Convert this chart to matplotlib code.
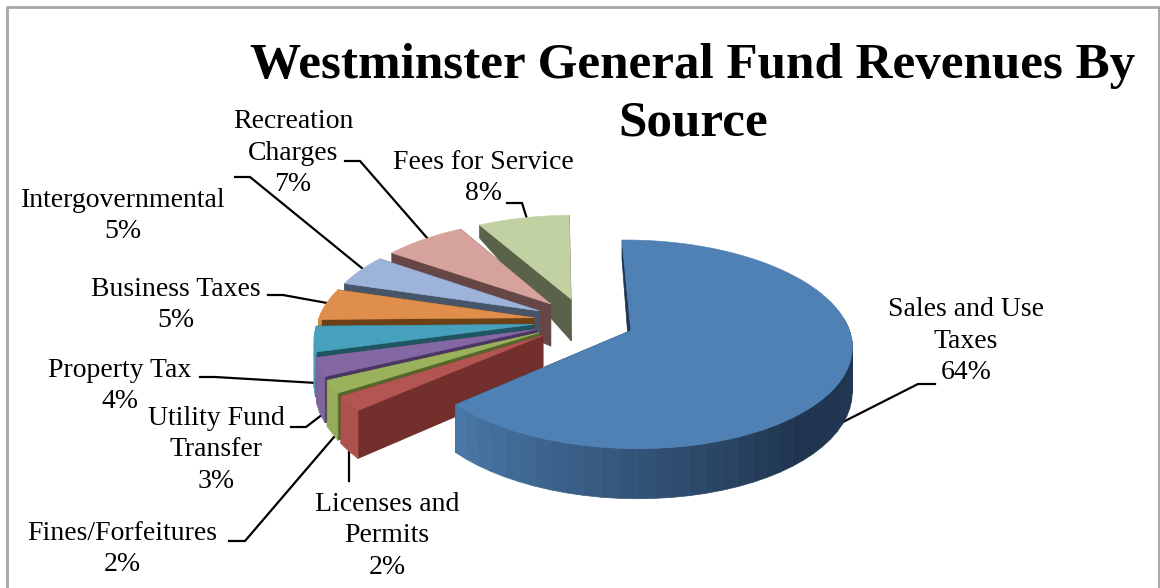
"""Westminster general fund revenues as an exploded 3D style pie."""

import matplotlib

matplotlib.use("Agg")
import matplotlib.pyplot as plt
import numpy as np
from matplotlib.colors import to_rgb

labels = [
    "Sales and Use\nTaxes",
    "Licenses and\nPermits",
    "Fines/Forfeitures",
    "Utility Fund\nTransfer",
    "Property Tax",
    "Business Taxes",
    "Intergovernmental",
    "Recreation\nCharges",
    "Fees for Service",
]
# shares, the labels round them
values = [63.8, 2.3, 2.0, 2.9, 4.0, 5.0, 5.0, 7.1, 7.9]
top_colors = ["#4F81B5", "#B35551", "#9BB25C", "#8368A3", "#47A1BC",
              "#E08E4B", "#9DB3D9", "#D5A29C", "#C1D1A2"]
wall_colors = ["#20354F", "#722F2C", "#56672C", "#4B3663", "#1F5560",
               "#6E4015", "#465568", "#664746", "#5A6349"]

# projection of the pie plane on to the page, in pixels
CX, CY = 584.0, 321.0
RX, RY, TILT = 216.0, 100.0, 0.13
DEPTH = 43.0
EXPLODE = 0.234
START = 91.0
SERIF = "Liberation Serif"


def project(x, y):
    w = 1 + TILT * y
    # the side walls get much thinner towards the back of the pie
    taper = 1 - 0.66 * np.clip((y - 0.3) / 0.8, 0, 1)
    return CX + RX * x / w, CY - RY * y / w, DEPTH * taper / w


def mix(a, b, t):
    a, b = np.array(to_rgb(a)), np.array(to_rgb(b))
    return tuple(a + (b - a) * t)


def draw_slice(ax, a0, a1, top, wall):
    """Draw one slice, angles in degrees going from a0 down to a1."""
    mid = np.radians((a0 + a1) / 2)
    ox, oy = EXPLODE * np.cos(mid), EXPLODE * np.sin(mid)
    angles = np.radians(np.linspace(a0, a1, int(abs(a1 - a0)) + 2))
    xs, ys, ds = project(ox + np.cos(angles), oy + np.sin(angles))
    ax_, ay_, ad_ = project(ox, oy)

    # radial walls first, the rim and the top go over them
    for i in (0, -1):
        ax.fill([ax_, xs[i], xs[i], ax_],
                [ay_, ys[i], ys[i] + ds[i], ay_ + ad_],
                color=wall, lw=0.5, zorder=2)

    # rim in bands, lighter to the left like the original
    n_bands = max(int(abs(a1 - a0) / 4), 1)
    band = np.linspace(a0, a1, n_bands + 1)
    rad = np.radians(band)
    bx, by, bd = project(ox + np.cos(rad), oy + np.sin(rad))
    for i in range(n_bands):
        # the back of the rim faces away from the viewer
        if np.sin(rad[i]) > 0.05 and np.sin(rad[i + 1]) > 0.05:
            continue
        t = np.clip((-band[i] - 48) / 100, 0, 0.92)
        ax.fill([bx[i], bx[i + 1], bx[i + 1], bx[i]],
                [by[i], by[i + 1], by[i + 1] + bd[i + 1], by[i] + bd[i]],
                color=mix(wall, top, t), lw=0.5, zorder=2)

    ax.fill(np.r_[ax_, xs], np.r_[ay_, ys], color=top, lw=0.4, zorder=2)


fig = plt.figure(figsize=(11.6, 5.88), dpi=100)
ax = fig.add_axes([0, 0, 1, 1])
ax.set_xlim(0, 1160)
ax.set_ylim(588, 0)
ax.axis("off")

# back slices first so the front ones paint over them
edges = START - 3.6 * np.r_[0, np.cumsum(values)]
for i in range(len(values) - 1, -1, -1):
    draw_slice(ax, edges[i], edges[i + 1], top_colors[i], wall_colors[i])

# outer frame, open at the bottom
ax.plot([7, 7, 1159, 1159], [588, 7, 7, 588], color="#A6A6A6", lw=2, zorder=1)

for y, line in [(66, "Westminster General Fund Revenues By"), (123, "Source")]:
    ax.text(693, y, line, family=SERIF, weight="bold", fontsize=36.8,
            ha="center", va="center")

label_pos = [(966, 341), (387, 536), (122, 549), (216, 450), (120, 386),
             (176, 305), (123, 216), (293, 153), (483, 178)]
for label, value, (x, y) in zip(labels, values, label_pos):
    ax.text(x, y, f"{label}\n{value:.0f}%", family=SERIF, fontsize=20,
            ha="center", va="center", linespacing=1.36)

leaders = [
    [(935, 384), (918, 384), (839, 424)],
    [(349, 452), (349, 481)],
    [(229, 541), (245, 541), (334, 437)],
    [(291, 427), (306, 427), (323, 414)],
    [(200, 377), (215, 377), (317, 383)],
    [(268, 295), (283, 295), (327, 303)],
    [(235, 177), (250, 177), (363, 269)],
    [(345, 161), (360, 161), (428, 239)],
    [(507, 203), (522, 203), (527, 219)],
]
for pts in leaders:
    px, py = zip(*pts)
    ax.plot(px, py, color="black", lw=1.6, zorder=1.5, solid_joinstyle="miter")

fig.savefig("out.png", dpi=100)
